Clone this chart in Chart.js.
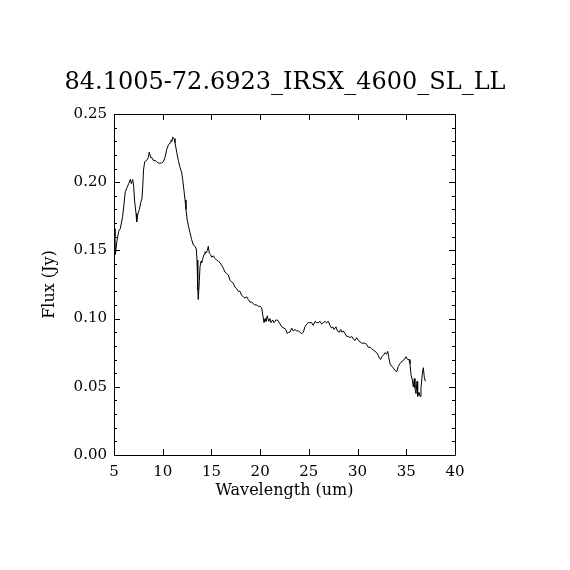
<!DOCTYPE html>
<html>
<head>
<meta charset="utf-8">
<script src="https://cdn.jsdelivr.net/npm/chart.js@4/dist/chart.umd.min.js"></script>
<style>
  html, body { margin: 0; padding: 0; background: #fff; }
  #wrap { width: 570px; height: 570px; position: relative; }
</style>
</head>
<body>
<div id="wrap"><canvas id="c"></canvas></div>
<script>
const chartTitle = "84.1005-72.6923_IRSX_4600_SL_LL";
const xAxisTitle = "Wavelength (um)";
const yAxisTitle = "Flux (Jy)";

const wavelength = [
  5.05, 5.10, 5.15, 5.28, 5.48, 5.65, 5.89, 6.16, 6.33, 6.51, 6.67, 6.78, 6.92, 7.02, 7.12, 7.26, 7.33, 7.46, 7.60, 7.74,
  7.87, 7.95, 8.03, 8.15, 8.36, 8.52, 8.62, 8.77, 8.90, 9.03, 9.21, 9.38, 9.55, 9.72, 9.90, 10.06, 10.23, 10.41, 10.57, 10.75,
  10.85, 10.95, 11.02, 11.16, 11.26, 11.44, 11.60, 11.77, 11.95, 12.05, 12.18, 12.29, 12.39, 12.52, 12.67, 12.80, 12.97, 13.14, 13.31, 13.45,
  13.52, 13.58, 13.62, 13.65, 13.76, 13.83, 13.93, 14.00, 14.10, 14.24, 14.34, 14.44, 14.58, 14.68, 14.78, 14.92, 15.03, 15.19, 15.37, 15.54,
  15.71, 15.88, 16.05, 16.22, 16.39, 16.57, 16.73, 16.91, 17.08, 17.24, 17.42, 17.59, 17.76, 17.93, 18.11, 18.27, 18.45, 18.62, 18.78, 18.96,
  19.13, 19.30, 19.47, 19.65, 19.81, 19.99, 20.16, 20.26, 20.40, 20.50, 20.60, 20.73, 20.88, 21.01, 21.11, 21.29, 21.42, 21.63, 21.76, 21.97,
  22.21, 22.45, 22.65, 22.79, 22.93, 23.06, 23.24, 23.40, 23.58, 23.75, 23.92, 24.09, 24.27, 24.43, 24.60, 24.78, 24.94, 25.12, 25.29, 25.45,
  25.63, 25.80, 25.97, 26.14, 26.31, 26.48, 26.66, 26.83, 27.00, 27.17, 27.34, 27.45, 27.58, 27.79, 27.92, 28.12, 28.27, 28.40, 28.53, 28.71,
  28.88, 29.05, 29.22, 29.40, 29.56, 29.74, 29.91, 30.07, 30.25, 30.42, 30.59, 30.76, 30.94, 31.10, 31.28, 31.45, 31.61, 31.79, 31.96, 32.13,
  32.23, 32.37, 32.47, 32.64, 32.81, 32.99, 33.09, 33.19, 33.33, 33.50, 33.67, 33.84, 34.02, 34.18, 34.35, 34.59, 34.80, 34.97, 35.14, 35.28,
  35.38, 35.48, 35.62, 35.72, 35.82, 35.89, 36.00, 36.10, 36.17, 36.30, 36.41, 36.51, 36.64, 36.75, 36.85, 36.95
];

const flux = [
  0.166, 0.160, 0.147, 0.156, 0.164, 0.166, 0.175, 0.193, 0.196, 0.199, 0.202, 0.199, 0.202, 0.197, 0.186, 0.177, 0.171, 0.177, 0.180, 0.185,
  0.188, 0.197, 0.209, 0.215, 0.216, 0.218, 0.222, 0.218, 0.218, 0.216, 0.216, 0.215, 0.214, 0.214, 0.214, 0.215, 0.218, 0.224, 0.227, 0.229,
  0.231, 0.230, 0.233, 0.232, 0.229, 0.222, 0.216, 0.211, 0.207, 0.202, 0.194, 0.187, 0.180, 0.172, 0.167, 0.163, 0.158, 0.154, 0.153, 0.151,
  0.143, 0.131, 0.121, 0.114, 0.128, 0.138, 0.142, 0.141, 0.144, 0.147, 0.149, 0.148, 0.150, 0.153, 0.148, 0.147, 0.145, 0.146, 0.144, 0.143,
  0.142, 0.141, 0.139, 0.137, 0.134, 0.133, 0.132, 0.128, 0.127, 0.126, 0.123, 0.122, 0.120, 0.120, 0.117, 0.116, 0.115, 0.116, 0.114, 0.112,
  0.112, 0.111, 0.110, 0.110, 0.109, 0.109, 0.108, 0.103, 0.097, 0.100, 0.098, 0.102, 0.098, 0.100, 0.097, 0.099, 0.097, 0.099, 0.099, 0.097,
  0.094, 0.093, 0.092, 0.089, 0.090, 0.090, 0.093, 0.091, 0.092, 0.091, 0.091, 0.090, 0.089, 0.090, 0.094, 0.096, 0.097, 0.097, 0.097, 0.095,
  0.098, 0.097, 0.097, 0.098, 0.096, 0.097, 0.098, 0.097, 0.098, 0.095, 0.093, 0.094, 0.092, 0.094, 0.091, 0.090, 0.092, 0.090, 0.091, 0.089,
  0.087, 0.087, 0.086, 0.087, 0.085, 0.084, 0.086, 0.084, 0.083, 0.082, 0.082, 0.082, 0.081, 0.079, 0.079, 0.078, 0.077, 0.076, 0.075, 0.073,
  0.071, 0.070, 0.072, 0.073, 0.075, 0.074, 0.076, 0.072, 0.067, 0.065, 0.064, 0.062, 0.061, 0.065, 0.067, 0.069, 0.070, 0.072, 0.070, 0.070,
  0.067, 0.059, 0.055, 0.050, 0.056, 0.049, 0.045, 0.054, 0.043, 0.046, 0.043, 0.049, 0.059, 0.064, 0.057, 0.054
];

const xTicks = [5, 10, 15, 20, 25, 30, 35, 40];
const yTicks = [0.00, 0.05, 0.10, 0.15, 0.20, 0.25];
const yMinorStep = 0.01;

const FONT = "'DejaVu Serif', 'Liberation Serif', serif";

const framePlugin = {
  id: 'frameTicks',
  afterDraw(chart) {
    const { ctx, chartArea: a } = chart;
    const xs = chart.scales.x, ys = chart.scales.y;
    ctx.save();
    ctx.strokeStyle = '#000';
    ctx.lineWidth = 1;
    ctx.beginPath();
    ctx.rect(Math.round(a.left) + 0.5, Math.round(a.top) + 0.5,
             Math.round(a.right - a.left), Math.round(a.bottom - a.top));
    ctx.stroke();
    const major = 6, minor = 3;
    ctx.beginPath();
    xTicks.forEach(v => {
      const px = Math.round(xs.getPixelForValue(v)) + 0.5;
      ctx.moveTo(px, a.bottom); ctx.lineTo(px, a.bottom - major);
      ctx.moveTo(px, a.top); ctx.lineTo(px, a.top + major);
    });
    const n = Math.round((ys.max - ys.min) / yMinorStep);
    for (let i = 0; i <= n; i++) {
      const v = ys.min + i * yMinorStep;
      const isMajor = i % 5 === 0;
      const len = isMajor ? major : minor;
      const py = Math.round(ys.getPixelForValue(v)) + 0.5;
      ctx.moveTo(a.left, py); ctx.lineTo(a.left + len, py);
      ctx.moveTo(a.right, py); ctx.lineTo(a.right - len, py);
    }
    ctx.stroke();
    ctx.restore();
  }
};

Chart.defaults.color = '#000';
Chart.defaults.font.family = FONT;

new Chart(document.getElementById('c'), {
  type: 'line',
  data: {
    datasets: [{
      data: wavelength.map((w, i) => ({ x: w, y: flux[i] })),
      borderColor: '#000',
      borderWidth: 1,
      pointRadius: 0,
      tension: 0,
      fill: false
    }]
  },
  options: {
    responsive: true,
    maintainAspectRatio: false,
    animation: false,
    layout: { padding: { left: 0, right: 0, top: 0, bottom: 55 } },
    plugins: {
      legend: { display: false },
      tooltip: { enabled: false },
      title: {
        display: true,
        text: chartTitle,
        color: '#000',
        font: { family: FONT, size: 24, weight: 'normal' },
        padding: { top: 68.6, bottom: 16.6 }
      }
    },
    scales: {
      x: {
        type: 'linear',
        min: 5, max: 40,
        afterFit(s) { s.height = 60; },
        afterBuildTicks(s) { s.ticks = xTicks.map(v => ({ value: v })); },
        ticks: { font: { family: FONT, size: 15 }, color: '#000', padding: 8, maxRotation: 0,
                 callback: v => String(v) },
        grid: { display: false, drawTicks: false },
        border: { display: false },
        title: { display: true, text: xAxisTitle, color: '#000',
                 font: { family: FONT, size: 16 }, padding: { top: 0, bottom: 14.4 } }
      },
      y: {
        type: 'linear',
        position: 'left',
        min: 0, max: 0.25,
        afterFit(s) { s.width = 114; },
        afterBuildTicks(s) { s.ticks = yTicks.map(v => ({ value: v })); },
        ticks: { font: { family: FONT, size: 15 }, color: '#000', padding: 7,
                 callback: v => Number(v).toFixed(2) },
        grid: { display: false, drawTicks: false },
        border: { display: false },
        title: { display: true, text: yAxisTitle, color: '#000',
                 font: { family: FONT, size: 16 }, padding: { top: 40, bottom: 0 } }
      },
      yRight: {
        type: 'linear',
        position: 'right',
        min: 0, max: 0.25,
        afterFit(s) { s.width = 115; },
        ticks: { display: false },
        grid: { display: false, drawTicks: false },
        border: { display: false },
        title: { display: false }
      }
    }
  },
  plugins: [framePlugin]
});
</script>
</body>
</html>
